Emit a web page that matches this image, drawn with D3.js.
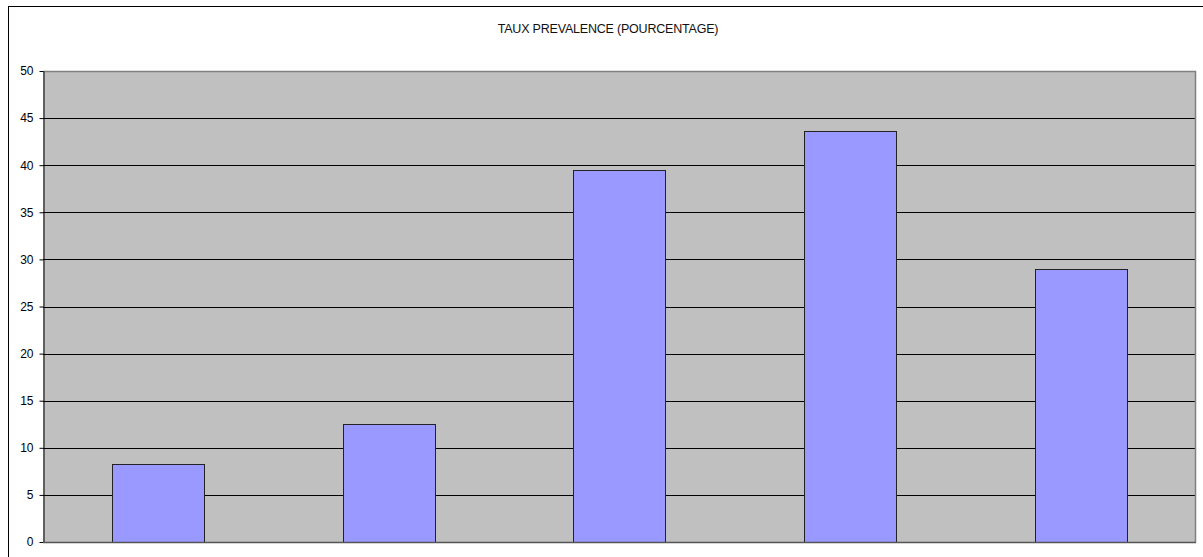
<!DOCTYPE html>
<html>
<head>
<meta charset="utf-8">
<script src="https://cdn.jsdelivr.net/npm/d3@7"></script>
<style>
  body { margin: 0; background: #fff; }
  svg { display: block; font-family: "Liberation Sans", Arial, sans-serif; }
</style>
</head>
<body>
<div id="chart"></div>
<script>
// data
const categories = ["1", "2", "3", "4", "5"];
const values = [8.25, 12.55, 39.45, 43.65, 29.0];
const yTicks = [0, 5, 10, 15, 20, 25, 30, 35, 40, 45, 50];
const title = "TAUX PREVALENCE (POURCENTAGE)";

const width = 1203, height = 557;
const margin = { top: 71, right: 7, bottom: 15, left: 43 };

const svg = d3.select("#chart").append("svg")
    .attr("width", width)
    .attr("height", height);

// outer chart frame (goes off the right / bottom edge)
svg.append("rect")
    .attr("x", 8.5).attr("y", 6.5)
    .attr("width", width + 10).attr("height", height + 10)
    .attr("fill", "#fff").attr("stroke", "#000").attr("stroke-width", 1);

const scaleX = d3.scaleBand()
    .domain(categories)
    .range([margin.left, width - margin.right])
    .paddingInner(0.6)
    .paddingOuter(0.3);

const scaleY = d3.scaleLinear()
    .domain([0, 50])
    .range([height - margin.bottom, margin.top]);

// plot area
svg.append("rect")
    .attr("x", margin.left).attr("y", margin.top)
    .attr("width", width - margin.right - margin.left)
    .attr("height", scaleY(0) - margin.top)
    .attr("fill", "#c0c0c0");

// grid lines
svg.append("g")
    .selectAll("line")
    .data(yTicks.filter(d => d > 0 && d < 50))
    .join("line")
    .attr("x1", margin.left).attr("x2", width - margin.right)
    .attr("y1", d => Math.round(scaleY(d)) + 0.5)
    .attr("y2", d => Math.round(scaleY(d)) + 0.5)
    .attr("stroke", "#000");

// plot border (top / right grey)
svg.append("path")
    .attr("d", `M${margin.left},${margin.top + 0.5}H${width - margin.right - 0.5}V${scaleY(0)}`)
    .attr("fill", "none")
    .attr("stroke", "#808080")
    .attr("stroke-width", 1.5);

// bars
svg.append("g")
    .selectAll("rect")
    .data(values)
    .join("rect")
    .attr("x", (d, i) => Math.round(scaleX(categories[i])) + 0.5)
    .attr("y", d => Math.round(scaleY(d)) + 0.5)
    .attr("width", Math.round(scaleX.bandwidth()))
    .attr("height", d => Math.round(scaleY(0)) - Math.round(scaleY(d)))
    .attr("fill", "#9999ff")
    .attr("stroke", "#222")
    .attr("stroke-width", 1);

// y axis
const yAxis = svg.append("g")
    .attr("transform", `translate(${margin.left + 0.5},0)`)
    .call(d3.axisLeft(scaleY).tickValues(yTicks).tickSize(4).tickPadding(6).tickSizeOuter(0));
yAxis.select(".domain").attr("stroke", "#000");
yAxis.selectAll(".tick line").attr("stroke", "#000");
yAxis.selectAll(".tick text")
    .attr("font-size", 12)
    .attr("font-family", "Liberation Sans, Arial, sans-serif")
    .attr("fill", "#000");

// x axis line
svg.append("line")
    .attr("x1", margin.left).attr("x2", width - margin.right)
    .attr("y1", Math.round(scaleY(0)) + 0.5).attr("y2", Math.round(scaleY(0)) + 0.5)
    .attr("stroke", "#555").attr("stroke-width", 1.5);

// title
svg.append("text")
    .attr("x", 608).attr("y", 33)
    .attr("text-anchor", "middle")
    .attr("font-size", 12.5)
    .attr("letter-spacing", "-0.2px")
    .attr("fill", "#111")
    .text(title);
</script>
</body>
</html>
